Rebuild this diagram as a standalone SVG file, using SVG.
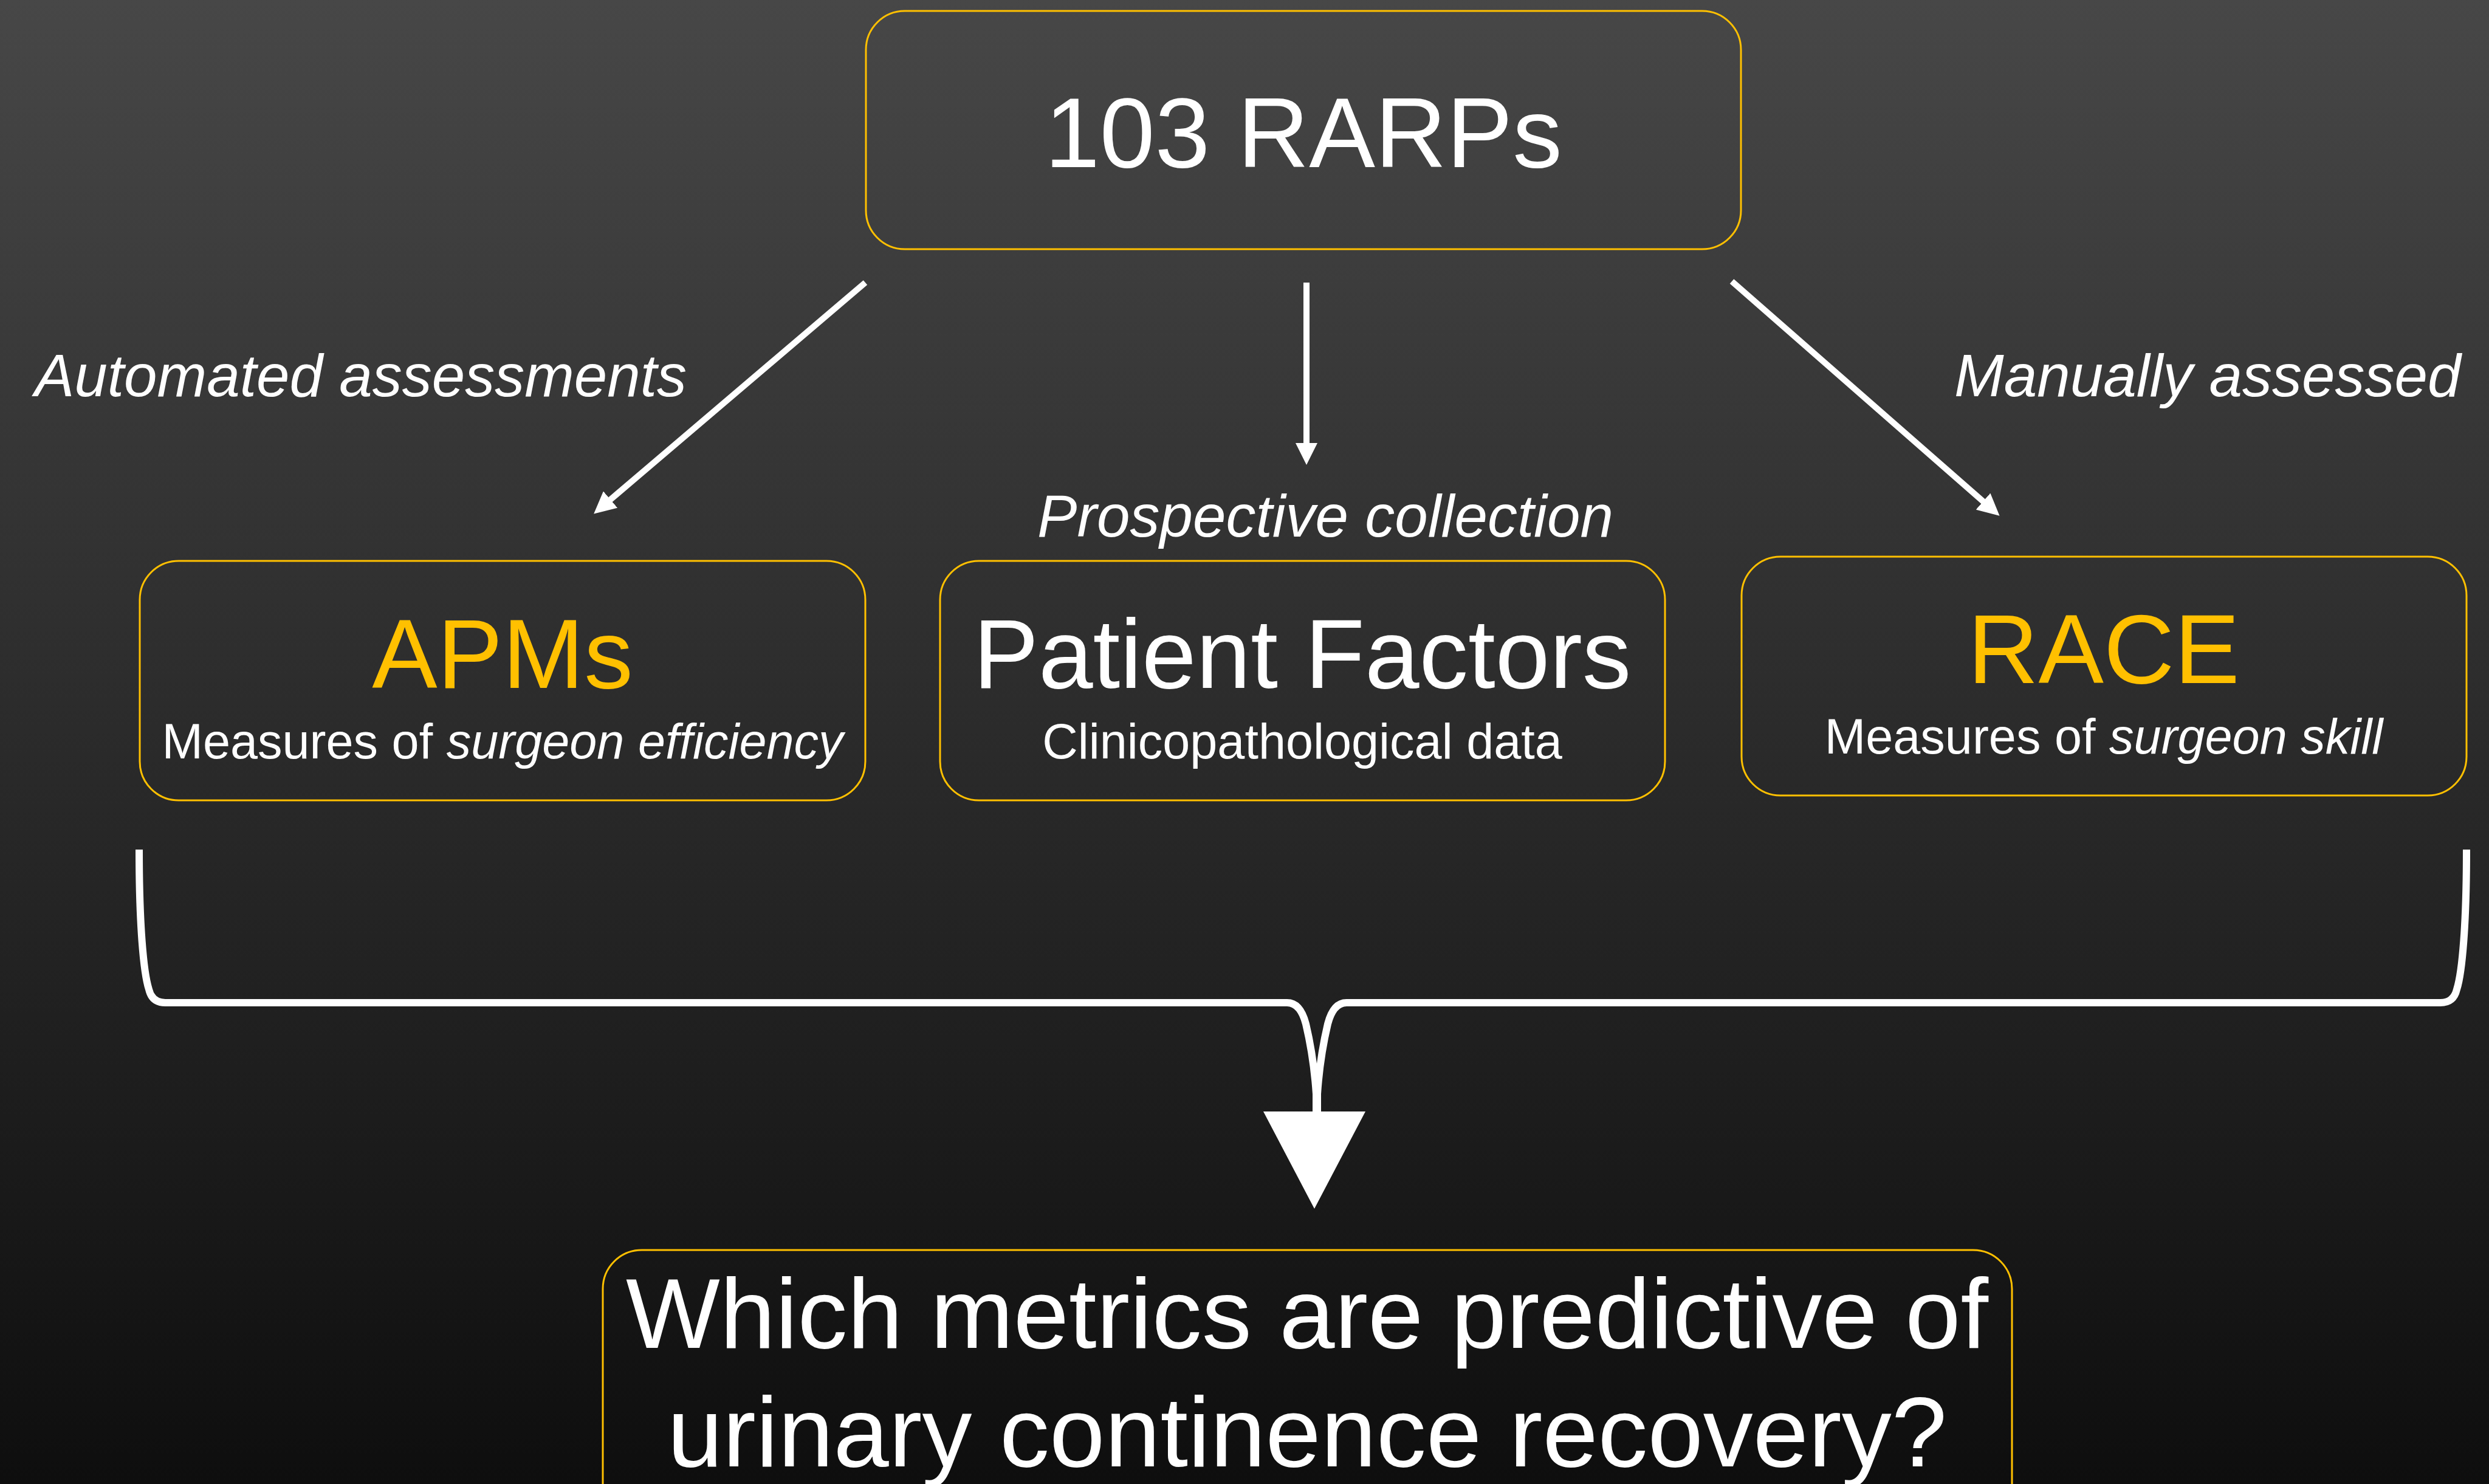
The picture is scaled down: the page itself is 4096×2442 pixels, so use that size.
<svg xmlns="http://www.w3.org/2000/svg" width="4096" height="2442" viewBox="0 0 4096 2442">
<defs>
<linearGradient id="bg" x1="0" y1="0" x2="0" y2="1">
<stop offset="0" stop-color="#474747"/>
<stop offset="1" stop-color="#0e0e0e"/>
</linearGradient>
<marker id="ah" viewBox="0 0 10 10" refX="1.67" refY="5" markerWidth="3.6" markerHeight="3.6" orient="auto" markerUnits="strokeWidth">
<path d="M0,0 L10,5 L0,10 z" fill="#ffffff"/>
</marker>
<style>
.box{fill:none;stroke:#FFC000;stroke-width:3}
.t{font-family:"Liberation Sans",Arial,sans-serif;fill:#ffffff}
.gold{fill:#FFC000}
.it{font-style:italic}
.conn{stroke:#ffffff;stroke-width:10;fill:none}
.brace{stroke:#ffffff;stroke-width:12;fill:none}
</style>
</defs>
<rect x="0" y="0" width="4096" height="2442" fill="url(#bg)"/>

<g id="node-rarps">
<rect class="box" x="1425" y="18" width="1440" height="392" rx="64" ry="64"/>
<text class="t" x="2145" y="275" font-size="163" text-anchor="middle">103 RARPs</text>
</g>

<g id="label-automated">
<text class="t it" x="57" y="652" font-size="98">Automated assessments</text>
</g>
<g id="label-manual">
<text class="t it" x="3216" y="652" font-size="98">Manually assessed</text>
</g>
<g id="label-prospective">
<text class="t it" x="2181" y="883" font-size="98" text-anchor="middle">Prospective collection</text>
</g>

<g id="node-apms">
<rect class="box" x="230" y="923" width="1194" height="394" rx="64" ry="64"/>
<text class="t gold" x="827" y="1132" font-size="161" text-anchor="middle">APMs</text>
<text class="t" x="827" y="1248" font-size="81" text-anchor="middle">Measures of <tspan class="it">surgeon efficiency</tspan></text>
</g>

<g id="node-patient">
<rect class="box" x="1547" y="923" width="1193" height="394" rx="64" ry="64"/>
<text class="t" x="2143" y="1132" font-size="161" text-anchor="middle">Patient Factors</text>
<text class="t" x="2143" y="1248" font-size="81" text-anchor="middle">Clinicopathological data</text>
</g>

<g id="node-race">
<rect class="box" x="2866" y="916" width="1193" height="393" rx="64" ry="64"/>
<text class="t gold" x="3462" y="1124" font-size="161" text-anchor="middle">RACE</text>
<text class="t" x="3462" y="1240" font-size="81" text-anchor="middle">Measures of <tspan class="it">surgeon skill</tspan></text>
</g>

<g id="node-question">
<rect class="box" x="992" y="2057" width="2319" height="500" rx="64" ry="64"/>
<text class="t" x="2151" y="2218" font-size="164" text-anchor="middle">Which metrics are predictive of</text>
<text class="t" x="2151" y="2413" font-size="164" text-anchor="middle">urinary continence recovery?</text>
</g>

<g id="connectors">
<line class="conn" x1="1424" y1="465" x2="1000" y2="826" marker-end="url(#ah)"/>
<line class="conn" x1="2150" y1="465" x2="2150" y2="735" marker-end="url(#ah)"/>
<line class="conn" x1="2850" y1="463" x2="3268" y2="829" marker-end="url(#ah)"/>
<path class="brace" d="M229,1398 C229,1520 236,1600 245,1628 Q250,1650 272,1650 L2118,1650 Q2140,1650 2149,1685 Q2162,1740 2166,1800 V1832"/>
<path class="brace" d="M4059,1398 C4059,1520 4052,1600 4043,1628 Q4038,1650 4016,1650 L2216,1650 Q2194,1650 2185,1685 Q2172,1740 2168,1800 V1832"/>
<polygon points="2079,1829 2247,1829 2163,1989" fill="#ffffff"/>
</g>
</svg>
